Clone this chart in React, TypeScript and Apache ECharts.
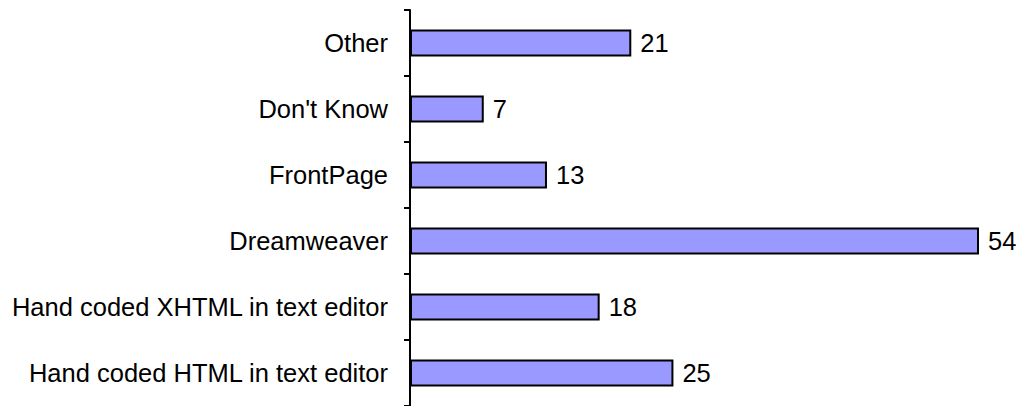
import React, { useEffect, useRef } from "react";
import * as echarts from "echarts";

const categories = [
  "Hand coded HTML in text editor",
  "Hand coded XHTML in text editor",
  "Dreamweaver",
  "FrontPage",
  "Don't Know",
  "Other",
];
const values = [25, 18, 54, 13, 7, 21];

const FONT = "Liberation Sans";

export default function App() {
  const ref = useRef<HTMLDivElement>(null);
  useEffect(() => {
    const chart = echarts.init(ref.current!, null, { renderer: "svg" });
    chart.setOption({
      animation: false,
      grid: { left: 410, right: 45, top: 10, bottom: 0 },
      xAxis: {
        type: "value",
        min: 0,
        max: 54,
        show: false,
      },
      yAxis: {
        type: "category",
        data: categories,
        axisLine: { show: true, lineStyle: { color: "#000", width: 2 } },
        axisTick: { show: true, inside: false, length: 6, lineStyle: { color: "#000", width: 2 } },
        axisLabel: { color: "#000", fontSize: 25.5, fontFamily: FONT, margin: 22 },
        splitLine: { show: false },
      },
      series: [
        {
          type: "bar",
          data: values,
          barWidth: 27,
          itemStyle: { color: "#9999ff", borderColor: "#000", borderWidth: 2 },
          label: {
            show: true,
            position: "right",
            distance: 9,
            color: "#000",
            fontSize: 25.5,
            fontFamily: FONT,
          },
        },
      ],
    });
    return () => chart.dispose();
  }, []);
  return <div ref={ref} style={{ width: 1024, height: 406, position: "absolute", left: 0, top: 0 }} />;
}
